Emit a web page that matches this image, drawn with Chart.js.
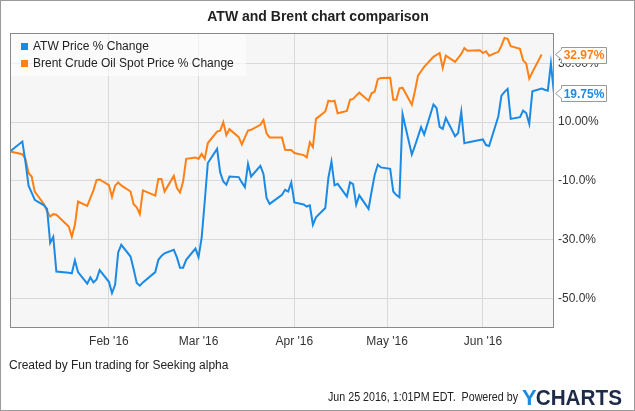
<!DOCTYPE html>
<html><head><meta charset="utf-8">
<script src="https://cdn.jsdelivr.net/npm/chart.js@4.4.0/dist/chart.umd.min.js"></script>
<style>html,body{margin:0;padding:0;background:#fff;overflow:hidden}canvas{display:block}</style>
</head><body>
<canvas id="c" width="635" height="411"></canvas>
<script>
const titleText = 'ATW and Brent chart comparison';
const seriesNames = ['ATW Price % Change', 'Brent Crude Oil Spot Price % Change'];
const dates = [
 '2015-12-31','2016-01-04','2016-01-05','2016-01-06','2016-01-07','2016-01-08','2016-01-11','2016-01-12','2016-01-13','2016-01-14','2016-01-15',
 '2016-01-19','2016-01-20','2016-01-21','2016-01-22','2016-01-25','2016-01-26','2016-01-27','2016-01-28','2016-01-29',
 '2016-02-01','2016-02-02','2016-02-03','2016-02-04','2016-02-05','2016-02-08','2016-02-09','2016-02-10','2016-02-11','2016-02-12',
 '2016-02-16','2016-02-17','2016-02-18','2016-02-19','2016-02-22','2016-02-23','2016-02-24','2016-02-25','2016-02-26','2016-02-29',
 '2016-03-01','2016-03-02','2016-03-03','2016-03-04','2016-03-07','2016-03-08','2016-03-09','2016-03-10','2016-03-11',
 '2016-03-14','2016-03-15','2016-03-16','2016-03-17','2016-03-18','2016-03-21','2016-03-22','2016-03-23','2016-03-24',
 '2016-03-28','2016-03-29','2016-03-30','2016-03-31','2016-04-01','2016-04-04','2016-04-05','2016-04-06','2016-04-07','2016-04-08',
 '2016-04-11','2016-04-12','2016-04-13','2016-04-14','2016-04-15','2016-04-18','2016-04-19','2016-04-20','2016-04-21','2016-04-22',
 '2016-04-25','2016-04-26','2016-04-27','2016-04-28','2016-04-29','2016-05-02','2016-05-03','2016-05-04','2016-05-05','2016-05-06',
 '2016-05-09','2016-05-10','2016-05-11','2016-05-12','2016-05-13','2016-05-16','2016-05-17','2016-05-18','2016-05-19','2016-05-20',
 '2016-05-23','2016-05-24','2016-05-25','2016-05-26','2016-05-27','2016-05-31','2016-06-01','2016-06-02','2016-06-03',
 '2016-06-06','2016-06-07','2016-06-08','2016-06-09','2016-06-10','2016-06-13','2016-06-14','2016-06-15','2016-06-16','2016-06-17',
 '2016-06-20','2016-06-21','2016-06-22','2016-06-23','2016-06-24'
];
const atwChange = [
 0, 3.4, -3.5, -11.6, -14.0, -16.4, -18.3, -19.5, -31.1, -29.0, -40.8,
 -41.2, -41.4, -37.0, -41.0, -44.9, -42.8, -44.5, -43.5, -40.3,
 -44.3, -48.1, -45.3, -34.3, -31.7, -35.7, -40.0, -44.7, -45.6, -44.5,
 -41.0, -36.8, -35.5, -34.6, -33.4, -36.0, -39.5, -39.5, -36.8, -33.0,
 -35.9, -29.4, -17.0, -3.9, 0.9, -7.1, -10.2, -11.3, -8.5,
 -8.7, -10.5, -12.1, -4.2, -8.5, -4.9, -7.6, -15.8, -17.8,
 -14.7, -13.0, -13.6, -10.5, -17.3, -18.0, -18.7, -18.3, -24.9, -22.4,
 -19.2, -9.0, -3.4, -11.5, -11.0, -15.3, -10.5, -11.1, -18.1, -14.9,
 -19.5, -13.5, -7.9, -4.5, -5.4, -5.9, -13.6, -14.8, -15.6, 12.7,
 -1.0, 1.9, 5.1, 8.3, 5.8, 16.0, 14.8, 8.4, 7.7, 11.4,
 5.2, 6.3, 13.5, 2.8, 3.1, 3.9, 4.1, 2.2, 1.9,
 12.0, 19.0, 20.3, 21.3, 11.1, 11.7, 13.9, 13.1, 9.4, 20.5,
 21.4, 21.0, 20.7, 29.9, 19.75
];
const brentChange = [
 0, -0.9, -2.5, -7.3, -8.5, -13.6, -17.9, -20.4, -22.1, -21.3, -21.5,
 -25.5, -29.0, -24.9, -17.0, -18.5, -15.8, -13.2, -9.7, -9.5,
 -11.4, -15.4, -11.6, -10.5, -11.5, -13.6, -17.9, -19.0, -21.3, -13.2,
 -15.0, -9.3, -9.3, -13.6, -8.3, -12.4, -13.9, -10.2, -2.5, -2.0,
 -2.5, -0.8, -2.5, 2.9, 6.8, 7.1, 10.0, 5.6, 7.6,
 4.9, 2.4, 4.8, 7.1, 7.4, 9.1, 10.7, 6.2, 4.8,
 4.8, 0.6, 0.5, 0.5, -0.5, -1.2, -2.0, 3.1, 1.5, 11.1,
 13.6, 17.3, 17.0, 17.3, 13.0, 13.8, 17.6, 17.9, 19.0, 20.0,
 17.3, 19.8, 20.4, 24.6, 25.0, 25.1, 17.6, 17.6, 21.5, 21.7,
 15.9, 20.5, 25.8, 27.3, 28.8, 32.2, 32.9, 33.5, 28.4, 32.6,
 30.5, 31.8, 33.2, 35.2, 34.3, 34.4, 33.5, 34.1, 32.6,
 33.9, 36.0, 38.6, 38.3, 35.8, 34.9, 31.0, 29.9, 24.8, 27.0,
 32.97, null, null, null, null
];
const monthTickDates = ['2016-02-01','2016-03-01','2016-04-01','2016-05-01','2016-06-01'];
const monthTickLabels = ["Feb '16", "Mar '16", "Apr '16", "May '16", "Jun '16"];
const yTickValues = [30, 10, -10, -30, -50];
const yTickLabels = ['30.00%', '10.00%', '-10.0%', '-30.0%', '-50.0%'];
const creditText = 'Created by Fun trading for Seeking alpha';
const stampText = 'Jun 25 2016, 1:01PM EDT.  Powered by';

const BLUE = '#1b8ae5', ORANGE = '#ff8014';
const FONT = '"Liberation Sans", Arial, sans-serif';
const base = Date.UTC(2015, 11, 31);
const dayOf = s => { const p = s.split('-').map(Number); return (Date.UTC(p[0], p[1] - 1, p[2]) - base) / 864e5; };
const xs = dates.map(dayOf);
const monthTicks = monthTickDates.map(dayOf);
const xMax = xs[xs.length - 1];

Chart.defaults.font.family = FONT;
Chart.defaults.color = '#333';

function lastVal(arr) { for (let i = arr.length - 1; i >= 0; i--) if (arr[i] != null) return arr[i]; return null; }

const decor = {
  id: 'decor',
  beforeDraw(chart) {
    const c = chart.ctx, a = chart.chartArea;
    c.save();
    c.fillStyle = '#fff';
    c.fillRect(0, 0, chart.width, chart.height);
    c.fillStyle = '#f6f6f6';
    c.fillRect(a.left, a.top, a.right - a.left, a.bottom - a.top);
    c.restore();
  },
  afterDraw(chart) {
    const c = chart.ctx, a = chart.chartArea;
    c.save();
    // plot border
    c.strokeStyle = '#8a8a8a'; c.lineWidth = 1;
    c.strokeRect(Math.round(a.left) + 0.5, Math.round(a.top) + 0.5, Math.round(a.right - a.left) - 1, Math.round(a.bottom - a.top) - 1);
    // outer border
    c.strokeStyle = '#9a9a9a';
    c.strokeRect(0.5, 0.5, chart.width - 1, chart.height - 1);
    // title
    c.fillStyle = '#222'; c.font = 'bold 14px ' + FONT;
    c.textAlign = 'center'; c.textBaseline = 'middle';
    c.fillText(titleText, 318, 17);
    // legend
    c.fillStyle = 'rgba(255,255,255,0.6)';
    c.fillRect(11, 34, 235, 42);
    const cols = [BLUE, ORANGE];
    c.font = '12px ' + FONT; c.textAlign = 'left';
    seriesNames.forEach((n, i) => {
      const yy = 47 + i * 17;
      c.fillStyle = cols[i];
      c.fillRect(21, yy - 4, 7, 7);
      c.fillStyle = '#222';
      c.fillText(n, 33, yy);
    });
    // end labels
    const ys = chart.scales.y;
    const ends = [[lastVal(brentChange), ORANGE], [lastVal(atwChange), BLUE]];
    ends.forEach(([v, col]) => {
      const py = ys.getPixelForValue(v);
      const tip = a.right + 1.5, bl = 561.5, br = 606.5, t = Math.round(py) - 7.5, b = Math.round(py) + 8.5;
      c.beginPath();
      c.moveTo(tip, py); c.lineTo(bl, py - 5); c.lineTo(bl, t); c.lineTo(br, t);
      c.lineTo(br, b); c.lineTo(bl, b); c.lineTo(bl, py + 5); c.closePath();
      c.fillStyle = '#fff'; c.fill();
      c.strokeStyle = '#999'; c.lineWidth = 1; c.stroke();
      c.fillStyle = col; c.font = 'bold 12px ' + FONT;
      c.textAlign = 'center'; c.textBaseline = 'middle';
      c.fillText(v.toFixed(2) + '%', (bl + br) / 2, py + 1);
    });
    // footer
    c.fillStyle = '#222'; c.font = '12px ' + FONT;
    c.textAlign = 'left'; c.textBaseline = 'middle';
    c.fillText(creditText, 9, 366);
    c.textAlign = 'right';
    c.fillText(stampText, 518, 398, 190);
    // logo
    c.font = 'bold 22px ' + FONT; c.textAlign = 'left'; c.textBaseline = 'alphabetic';
    c.fillStyle = '#1b8ae5';
    c.fillText('Y', 522, 405);
    const wy = c.measureText('Y').width;
    c.fillStyle = '#1d2b48';
    c.fillText('CHARTS', 522 + wy - 1, 405, 101 - wy);
    c.restore();
  }
};

new Chart(document.getElementById('c').getContext('2d'), {
  type: 'line',
  data: {
    datasets: [
      { label: seriesNames[0], data: xs.map((x, i) => ({ x: x, y: atwChange[i] })), borderColor: BLUE, borderWidth: 2, pointRadius: 0, tension: 0, fill: false },
      { label: seriesNames[1], data: xs.map((x, i) => ({ x: x, y: brentChange[i] })), borderColor: ORANGE, borderWidth: 2, pointRadius: 0, tension: 0, fill: false }
    ]
  },
  options: {
    responsive: false, animation: false, devicePixelRatio: 1,
    layout: { padding: { left: 10, top: 33, right: 0, bottom: 0 } },
    plugins: { legend: { display: false }, title: { display: false }, tooltip: { enabled: false } },
    scales: {
      x: {
        type: 'linear', position: 'bottom', min: 0, max: xMax,
        afterBuildTicks: s => { s.ticks = monthTicks.map(v => ({ value: v })); },
        afterFit: s => { s.height = 83; },
        grid: { color: '#d9d9d9', drawTicks: false },
        border: { display: false },
        ticks: { autoSkip: false, maxRotation: 0, minRotation: 0, padding: 6, color: '#333', font: { size: 12 },
          callback: (v, i) => monthTickLabels[i] }
      },
      y: {
        type: 'linear', position: 'right', min: -60, max: 40.3,
        afterBuildTicks: s => { s.ticks = yTickValues.map(v => ({ value: v })); },
        afterFit: s => { s.width = 81; },
        grid: { color: '#d9d9d9', drawTicks: false },
        border: { display: false },
        ticks: { padding: 4, color: '#333', font: { size: 12 }, callback: (v, i) => yTickLabels[i] }
      }
    }
  },
  plugins: [decor]
});
</script>
</body></html>
